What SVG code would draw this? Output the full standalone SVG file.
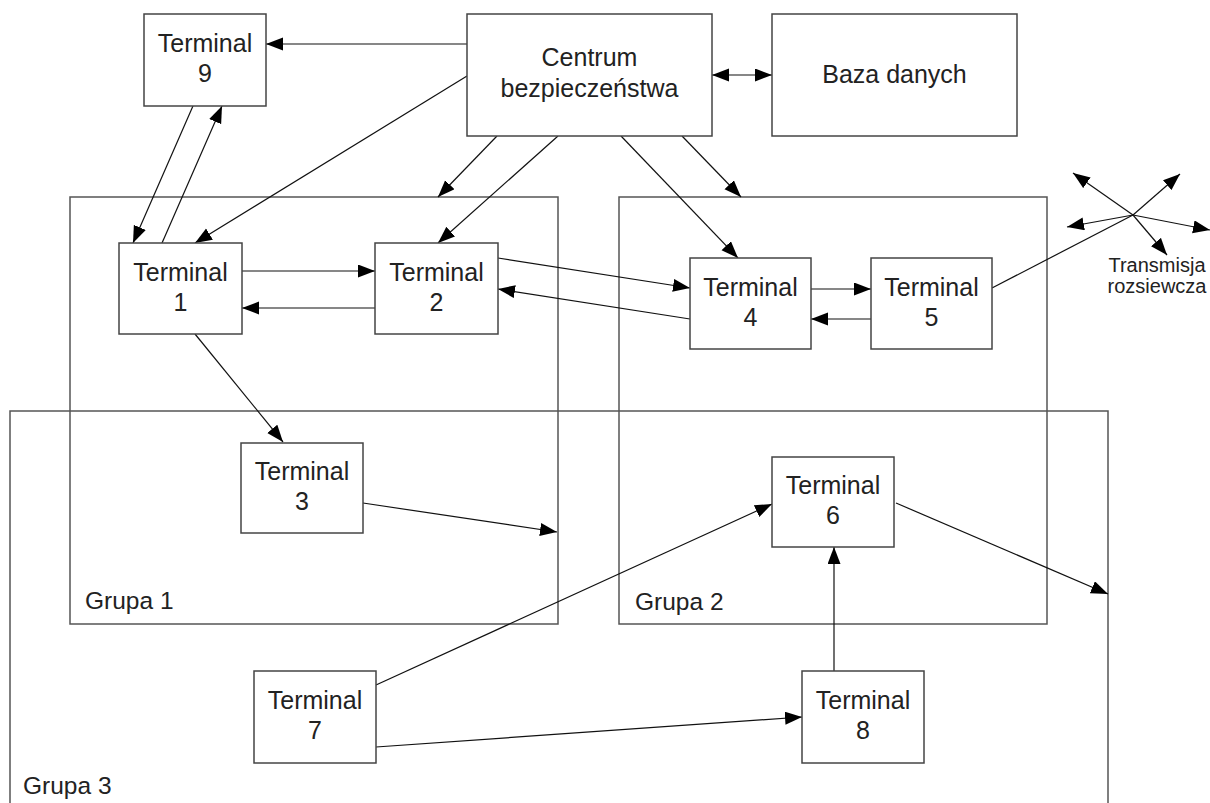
<svg xmlns="http://www.w3.org/2000/svg" width="1210" height="803" viewBox="0 0 1210 803">
  <style>
    .grp { fill: none; stroke: #555; stroke-width: 1.5; }
    .box { fill: #fff; stroke: #444; stroke-width: 1.5; }
    .lbl { font-family: "Liberation Sans", Arial, sans-serif; font-size: 25px; fill: #222; text-anchor: middle; }
    .glbl { font-family: "Liberation Sans", Arial, sans-serif; font-size: 24.5px; fill: #222; }
    .small { font-family: "Liberation Sans", Arial, sans-serif; font-size: 20px; fill: #222; text-anchor: middle; }
    .conn line { fill: none; stroke: #111; stroke-width: 1.2; }
  </style>
  <defs>
    <marker id="arrow" markerUnits="userSpaceOnUse" markerWidth="18" markerHeight="14" refX="17" refY="6.5" orient="auto-start-reverse">
      <path d="M0,0 L17,6.5 L0,13 z" fill="#000"/>
    </marker>
  </defs>
  <rect width="1210" height="803" fill="#fff"/>

  <!-- group frames -->
  <g id="grupa3">
    <rect class="grp" x="10" y="411" width="1098" height="420"/>
    <text class="glbl" x="23" y="794">Grupa 3</text>
  </g>
  <g id="grupa1">
    <rect class="grp" x="70" y="197" width="488" height="427"/>
    <text class="glbl" x="85" y="609">Grupa 1</text>
  </g>
  <g id="grupa2">
    <rect class="grp" x="619" y="197" width="428" height="427"/>
    <text class="glbl" x="635" y="610">Grupa 2</text>
  </g>

  <!-- connectors -->
  <g id="connectors" class="conn">
    <line x1="467" y1="44" x2="266" y2="44" marker-end="url(#arrow)"/>
    <line x1="712" y1="75" x2="772" y2="75" marker-start="url(#arrow)" marker-end="url(#arrow)"/>
    <line x1="467" y1="76" x2="195" y2="243" marker-end="url(#arrow)"/>
    <line x1="193" y1="106" x2="133" y2="243" marker-end="url(#arrow)"/>
    <line x1="162" y1="243" x2="222" y2="106" marker-end="url(#arrow)"/>
    <line x1="497" y1="136" x2="438" y2="197" marker-end="url(#arrow)"/>
    <line x1="558" y1="136" x2="438" y2="243" marker-end="url(#arrow)"/>
    <line x1="621" y1="136" x2="738" y2="258" marker-end="url(#arrow)"/>
    <line x1="682" y1="136" x2="741" y2="197" marker-end="url(#arrow)"/>
    <line x1="242" y1="271" x2="375" y2="271" marker-end="url(#arrow)"/>
    <line x1="375" y1="308" x2="242" y2="308" marker-end="url(#arrow)"/>
    <line x1="498" y1="258" x2="690" y2="288" marker-end="url(#arrow)"/>
    <line x1="690" y1="319" x2="498" y2="289" marker-end="url(#arrow)"/>
    <line x1="811" y1="289" x2="871" y2="289" marker-end="url(#arrow)"/>
    <line x1="871" y1="319" x2="811" y2="319" marker-end="url(#arrow)"/>
    <!-- broadcast star -->
    <line x1="992" y1="288" x2="1133" y2="215"/>
    <line x1="1133" y1="215" x2="1180" y2="174" marker-end="url(#arrow)"/>
    <line x1="1133" y1="215" x2="1073" y2="173" marker-end="url(#arrow)"/>
    <line x1="1133" y1="215" x2="1067" y2="227" marker-end="url(#arrow)"/>
    <line x1="1133" y1="215" x2="1210" y2="230" marker-end="url(#arrow)"/>
    <line x1="1133" y1="215" x2="1167" y2="255" marker-end="url(#arrow)"/>
    <line x1="195" y1="334" x2="283" y2="442" marker-end="url(#arrow)"/>
    <line x1="363" y1="503" x2="557" y2="532" marker-end="url(#arrow)"/>
    <line x1="896" y1="503" x2="1108" y2="594" marker-end="url(#arrow)"/>
    <line x1="376" y1="685" x2="772" y2="504" marker-end="url(#arrow)"/>
    <line x1="376" y1="747" x2="802" y2="717" marker-end="url(#arrow)"/>
    <line x1="834" y1="671" x2="834" y2="547" marker-end="url(#arrow)"/>
  </g>

  <!-- nodes -->
  <g id="centrum">
    <rect class="box" x="467" y="14" width="245" height="122"/>
    <text class="lbl" x="589.5" y="66">Centrum</text>
    <text class="lbl" x="589.5" y="97">bezpieczeństwa</text>
  </g>
  <g id="baza">
    <rect class="box" x="772" y="14" width="245" height="122"/>
    <text class="lbl" x="894.5" y="83">Baza danych</text>
  </g>
  <g id="terminal9">
    <rect class="box" x="144" y="14" width="122" height="92"/>
    <text class="lbl" x="205" y="52">Terminal</text>
    <text class="lbl" x="205" y="82">9</text>
  </g>
  <g id="terminal1">
    <rect class="box" x="119" y="243" width="123" height="91"/>
    <text class="lbl" x="180.5" y="281">Terminal</text>
    <text class="lbl" x="180.5" y="311">1</text>
  </g>
  <g id="terminal2">
    <rect class="box" x="375" y="243" width="123" height="91"/>
    <text class="lbl" x="436.5" y="281">Terminal</text>
    <text class="lbl" x="436.5" y="311">2</text>
  </g>
  <g id="terminal4">
    <rect class="box" x="690" y="258" width="121" height="91"/>
    <text class="lbl" x="750.5" y="296">Terminal</text>
    <text class="lbl" x="750.5" y="326">4</text>
  </g>
  <g id="terminal5">
    <rect class="box" x="871" y="258" width="121" height="91"/>
    <text class="lbl" x="931.5" y="296">Terminal</text>
    <text class="lbl" x="931.5" y="326">5</text>
  </g>
  <g id="terminal3">
    <rect class="box" x="241" y="443" width="122" height="90"/>
    <text class="lbl" x="302" y="480">Terminal</text>
    <text class="lbl" x="302" y="510">3</text>
  </g>
  <g id="terminal6">
    <rect class="box" x="772" y="457" width="122" height="90"/>
    <text class="lbl" x="833" y="494">Terminal</text>
    <text class="lbl" x="833" y="524">6</text>
  </g>
  <g id="terminal7">
    <rect class="box" x="254" y="671" width="122" height="92"/>
    <text class="lbl" x="315" y="709">Terminal</text>
    <text class="lbl" x="315" y="739">7</text>
  </g>
  <g id="terminal8">
    <rect class="box" x="802" y="671" width="122" height="92"/>
    <text class="lbl" x="863" y="709">Terminal</text>
    <text class="lbl" x="863" y="739">8</text>
  </g>
  <g id="transmisja">
    <text class="small" x="1157" y="272">Transmisja</text>
    <text class="small" x="1157" y="293">rozsiewcza</text>
  </g>
</svg>
